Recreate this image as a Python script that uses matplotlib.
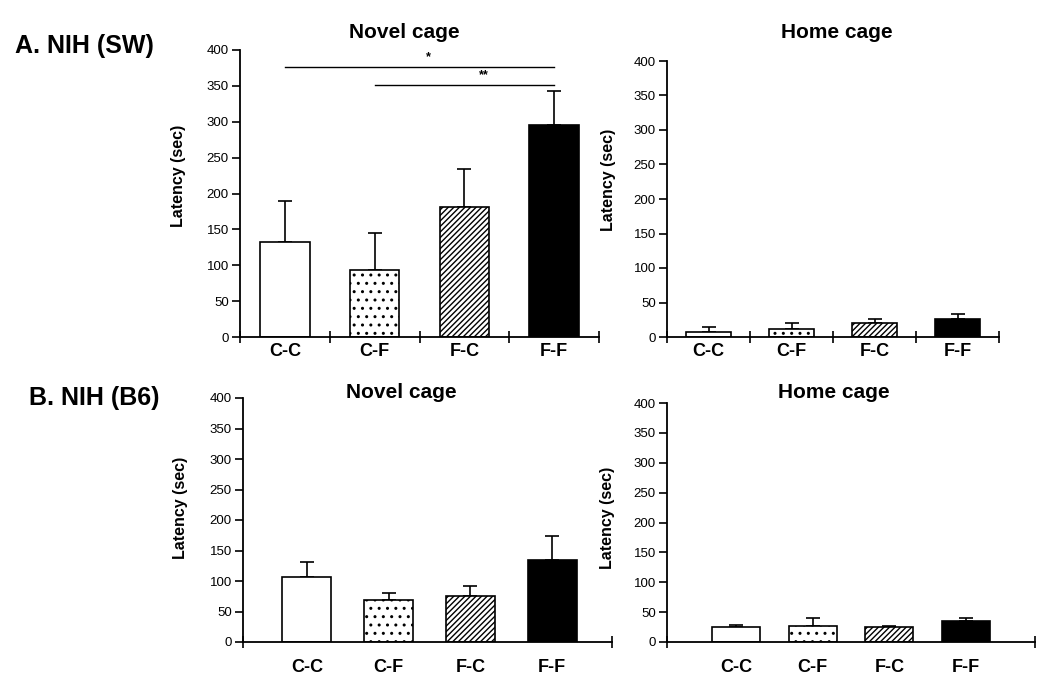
import matplotlib
matplotlib.use("Agg")
import matplotlib.pyplot as plt

plt.rcParams['font.family'] = ['Liberation Sans', 'DejaVu Sans']
plt.rcParams['hatch.linewidth'] = 1.0

groups = ["C-C", "C-F", "F-C", "F-F"]

# latency means and upper SEM (sec)
sw_novel = [133, 94, 181, 295]
sw_novel_err = [56, 51, 53, 48]
sw_home = [7, 11.6, 20.5, 26.5]
sw_home_err = [8, 8, 6, 6.5]
b6_novel = [107, 68.5, 76, 134]
b6_novel_err = [24, 12, 16.5, 40]
b6_home = [25, 27, 25, 34.5]
b6_home_err = [4, 12.5, 1, 5]

hatches = ["", "..", "//////", ""]
fills = ["white", "white", "white", "black"]

W, H = 1050, 699
fig = plt.figure(figsize=(W / 100, H / 100), dpi=100)


def px_axes(x0, x1, ytop, ybot):
    return fig.add_axes([x0 / W, 1 - ybot / H, (x1 - x0) / W, (ybot - ytop) / H])


def draw(ax, vals, errs, xlim, bounds, width, lab_pad, ylab_pos):
    x = list(range(len(groups)))
    for i in x:
        ax.bar(i, vals[i], width=width, color=fills[i], edgecolor="black",
               hatch=hatches[i], linewidth=1.2, zorder=2)
        ax.errorbar(i, vals[i], yerr=[[0], [errs[i]]], fmt="none", ecolor="black",
                    elinewidth=1.2, capsize=5, capthick=1.2, zorder=1)
    ax.set_xlim(*xlim)
    ax.set_ylim(0, 400)
    ax.set_yticks(range(0, 401, 50))
    ax.set_xticks(x)
    ax.set_xticklabels(groups, fontsize=13, fontweight="bold")
    ax.tick_params(axis="x", which="major", length=0, pad=lab_pad)
    ax.set_xticks(bounds, minor=True)
    ax.tick_params(axis="x", which="minor", direction="inout", length=8, width=1.2)
    ax.tick_params(axis="y", direction="out", length=6, width=1.2, labelsize=9.5, pad=2)
    for s in ["top", "right"]:
        ax.spines[s].set_visible(False)
    for s in ["left", "bottom"]:
        ax.spines[s].set_linewidth(1.3)
    ax.set_ylabel("Latency (sec)", fontsize=11.5, fontweight="bold")
    ax.yaxis.set_label_coords(*ylab_pos)


ax1 = px_axes(240, 599, 50, 337)
draw(ax1, sw_novel, sw_novel_err, (-0.5, 3.5), [-0.5, 0.5, 1.5, 2.5, 3.5], 0.55, 4, (-0.15, 0.56))
ax1.plot([0, 3], [377, 377], color="black", lw=1)
ax1.plot([1, 3], [351, 351], color="black", lw=1)
ax1.text(1.6, 382, "*", ha="center", va="bottom", fontsize=9, fontweight="bold")
ax1.text(2.22, 356, "**", ha="center", va="bottom", fontsize=9, fontweight="bold")

ax2 = px_axes(667, 999, 61, 337)
draw(ax2, sw_home, sw_home_err, (-0.5, 3.5), [-0.5, 0.5, 1.5, 2.5, 3.5], 0.55, 4, (-0.155, 0.57))

ax3 = px_axes(243, 612, 398, 642)
draw(ax3, b6_novel, b6_novel_err, (-0.78, 3.73), [-0.78, 3.73], 0.6, 12, (-0.15, 0.55))

ax4 = px_axes(667, 1035, 403, 642)
draw(ax4, b6_home, b6_home_err, (-0.9, 3.9), [-0.9, 3.9], 0.63, 12, (-0.14, 0.52))

fig.text(404 / W, 1 - 32 / H, "Novel cage", ha="center", va="center", fontsize=15, fontweight="bold")
fig.text(837 / W, 1 - 32 / H, "Home cage", ha="center", va="center", fontsize=15, fontweight="bold")
fig.text(401 / W, 1 - 393 / H, "Novel cage", ha="center", va="center", fontsize=15, fontweight="bold")
fig.text(834 / W, 1 - 393 / H, "Home cage", ha="center", va="center", fontsize=15, fontweight="bold")
fig.text(15 / W, 1 - 46 / H, "A. NIH (SW)", ha="left", va="center", fontsize=18, fontweight="bold")
fig.text(29 / W, 1 - 398 / H, "B. NIH (B6)", ha="left", va="center", fontsize=18, fontweight="bold")

fig.savefig("out.png", dpi=100, facecolor="white")
